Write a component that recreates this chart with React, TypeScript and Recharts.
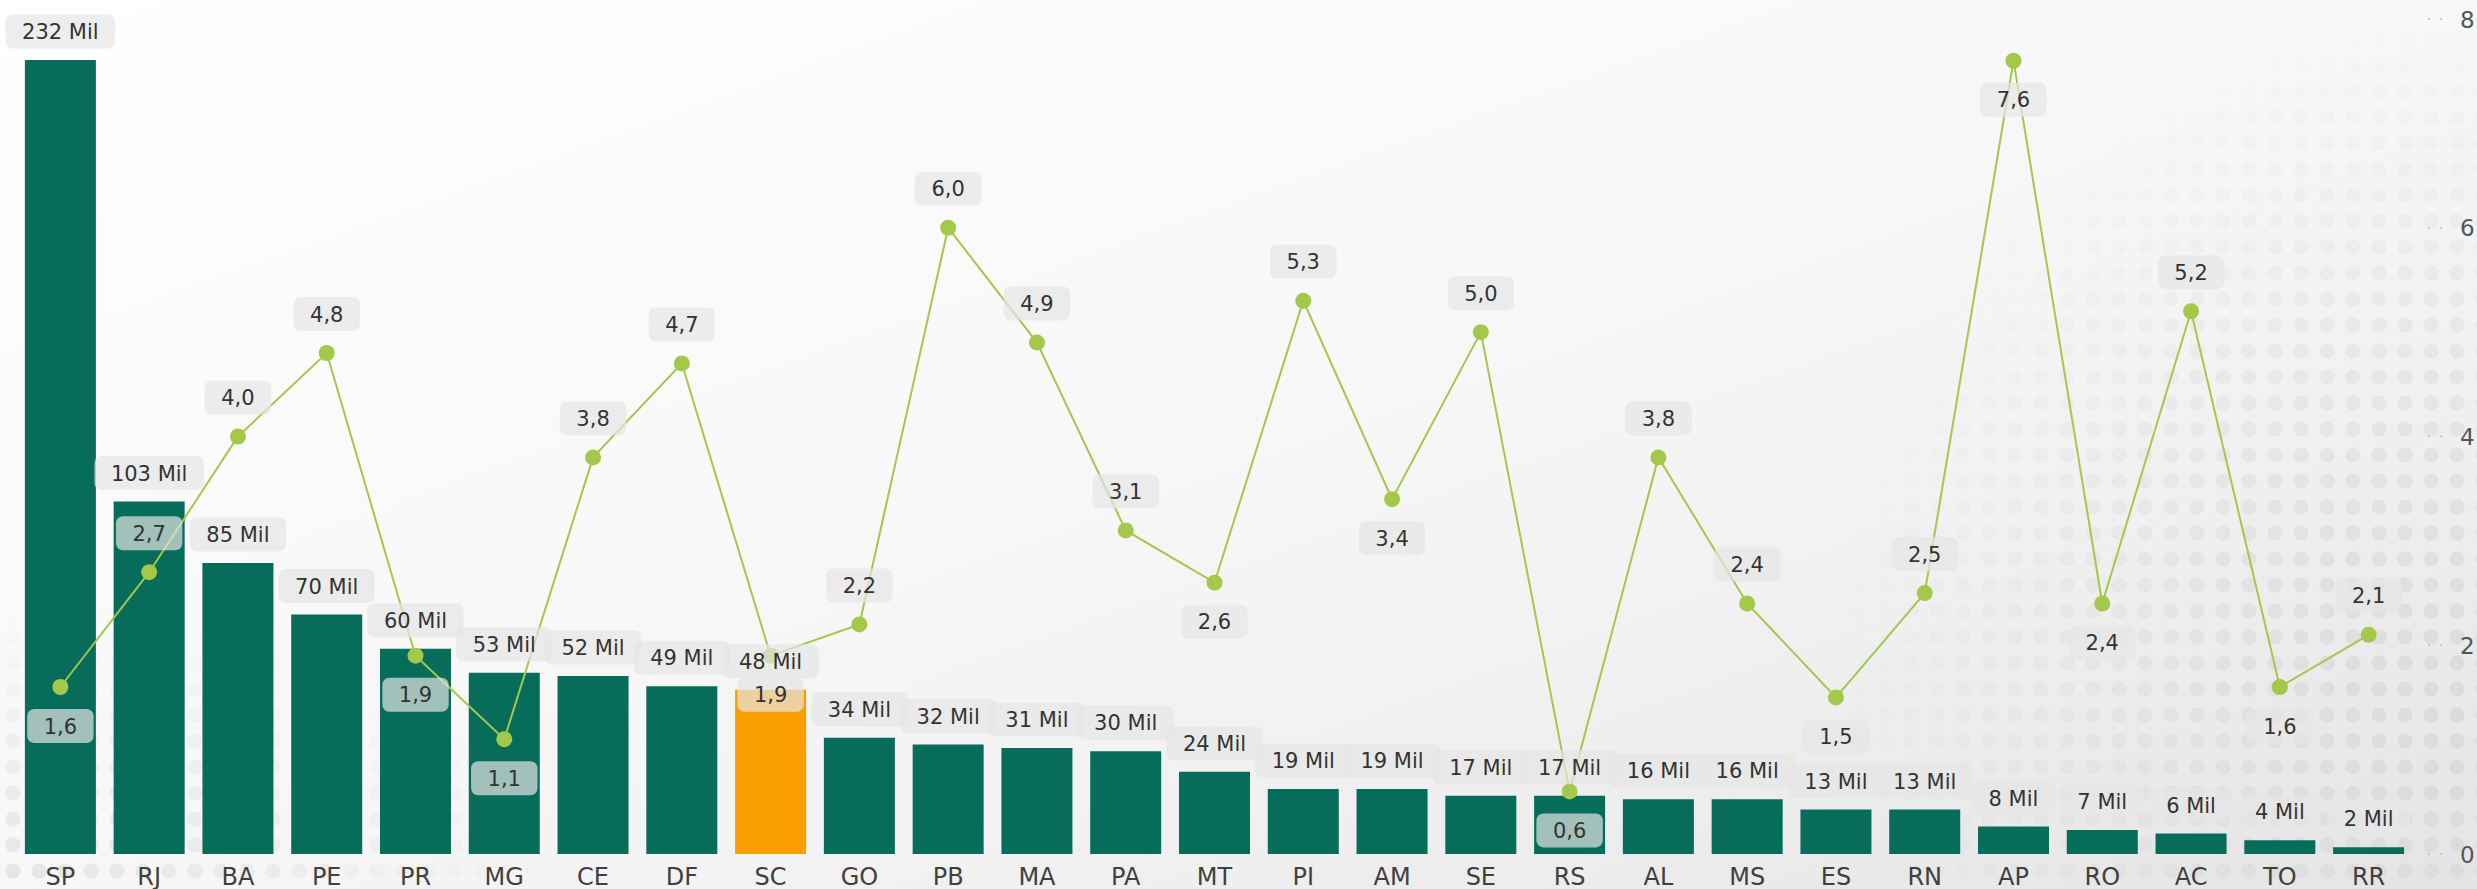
import React from 'react';
import { ComposedChart, Bar, Line, XAxis, YAxis, LabelList, Cell } from 'recharts';

const states = ['SP', 'RJ', 'BA', 'PE', 'PR', 'MG', 'CE', 'DF', 'SC', 'GO', 'PB', 'MA', 'PA', 'MT', 'PI', 'AM', 'SE', 'RS', 'AL', 'MS', 'ES', 'RN', 'AP', 'RO', 'AC', 'TO', 'RR'];
const totalMil = [232, 103, 85, 70, 60, 53, 52, 49, 48, 34, 32, 31, 30, 24, 19, 19, 17, 17, 16, 16, 13, 13, 8, 7, 6, 4, 2];
const taxa = [1.6, 2.7, 4.0, 4.8, 1.9, 1.1, 3.8, 4.7, 1.9, 2.2, 6.0, 4.9, 3.1, 2.6, 5.3, 3.4, 5.0, 0.6, 3.8, 2.4, 1.5, 2.5, 7.6, 2.4, 5.2, 1.6, 2.1];
const rightTicks = [0, 2, 4, 6, 8];
const highlightedState = 'SC';
const taxaLabelBelow = ['SP', 'PR', 'MG', 'SC', 'MT', 'AM', 'RS', 'ES', 'AP', 'RO', 'TO'];

const data = states.map((uf, i) => ({ uf, total: totalMil[i], taxa: taxa[i] }));

const FONT = '"DejaVu Sans", sans-serif';
const GREEN = '#076c59';
const ORANGE = '#fb9e02';
const LINE = '#a3c84a';
const TEXT = '#333333';

const charW: Record<string, number> = { ' ': 0.318, ',': 0.318, M: 0.863, i: 0.278, l: 0.278 };
const textWidth = (s: string, size: number) =>
  s.split('').reduce((a, c) => a + (charW[c] ?? 0.636), 0) * size;

const LABEL_SIZE = 21;

const Badge = ({ cx, cy, text }: { cx: number; cy: number; text: string }) => {
  const w = textWidth(text, LABEL_SIZE) + 33;
  return (
    <g>
      <rect x={cx - w / 2} y={cy - 17} width={w} height={34} rx={7} ry={7} fill="#e6e6e6" fillOpacity={0.7} />
      <text x={cx} y={cy + 7.6} textAnchor="middle" fill={TEXT} fontFamily={FONT} fontSize={LABEL_SIZE}>
        {text}
      </text>
    </g>
  );
};

const BarLabel = (props: any) => {
  const { x, y, width, value } = props;
  return <Badge cx={Number(x) + Number(width) / 2} cy={Number(y) - 28.5} text={`${value} Mil`} />;
};

const LineLabel = (props: any) => {
  const { x, y, value, index } = props;
  const below = taxaLabelBelow.includes(states[index]);
  const text = Number(value).toFixed(1).replace('.', ',');
  return <Badge cx={Number(x)} cy={Number(y) + (below ? 39 : -39)} text={text} />;
};

const XTick = (props: any) => {
  const { x, y, payload } = props;
  return (
    <text x={x} y={Number(y) + 31} textAnchor="middle" fill="#404040" fontFamily={FONT} fontSize={24}>
      {payload.value}
    </text>
  );
};

const RightTick = (props: any) => {
  const { x, y, payload } = props;
  return (
    <g>
      <line x1={Number(x) + 15} x2={Number(x) + 29} y1={y} y2={y} stroke="#bdbdbd" strokeWidth={1.5} strokeDasharray="2 10" />
      <text x={Number(x) + 47} y={Number(y) + 8.5} fill="#555555" fontFamily={FONT} fontSize={23}>
        {payload.value}
      </text>
    </g>
  );
};

export default function App() {
  return (
    <div
      style={{
        position: 'absolute',
        left: 0,
        top: 0,
        width: 2477,
        height: 889,
        overflow: 'hidden',
        background:
          'linear-gradient(to bottom right, #ffffff 0%, #fbfbfb 25%, #f7f7f7 50%, #f0f0f0 72%, #e4e4e4 100%)',
      }}
    >
      <div
        style={{
          position: 'absolute',
          inset: 0,
          zIndex: 0,
          backgroundImage: 'radial-gradient(circle, #d6d6d6 0 7px, transparent 8px)',
          backgroundSize: '26px 26px',
          WebkitMaskImage:
            'radial-gradient(ellipse 650px 700px at 100% 80%, rgba(0,0,0,0.75), rgba(0,0,0,0) 100%), radial-gradient(ellipse 600px 280px at 0% 100%, rgba(0,0,0,0.55), rgba(0,0,0,0) 100%)',
          maskImage:
            'radial-gradient(ellipse 650px 700px at 100% 80%, rgba(0,0,0,0.75), rgba(0,0,0,0) 100%), radial-gradient(ellipse 600px 280px at 0% 100%, rgba(0,0,0,0.55), rgba(0,0,0,0) 100%)',
        }}
      />
      <div style={{ position: 'relative', zIndex: 1 }}>
        <ComposedChart
          width={2477}
          height={889}
          data={data}
          margin={{ top: 19, right: 0, bottom: 0, left: 16 }}
          barCategoryGap="10%"
        >
          <XAxis
            dataKey="uf"
            axisLine={false}
            tickLine={false}
            tickSize={0}
            tickMargin={0}
            height={35}
            interval={0}
            tick={<XTick />}
          />
          <YAxis yAxisId="total" hide domain={[0, 244]} />
          <YAxis
            yAxisId="taxa"
            orientation="right"
            domain={[0, 8]}
            ticks={rightTicks}
            width={64}
            axisLine={false}
            tickLine={false}
            tickSize={0}
            tickMargin={0}
            tick={<RightTick />}
          />
          <Bar yAxisId="total" dataKey="total" isAnimationActive={false}>
            {data.map((d) => (
              <Cell key={d.uf} fill={d.uf === highlightedState ? ORANGE : GREEN} />
            ))}
            <LabelList dataKey="total" content={<BarLabel />} />
          </Bar>
          <Line
            yAxisId="taxa"
            dataKey="taxa"
            stroke={LINE}
            strokeWidth={2}
            dot={{ r: 8, fill: LINE, stroke: 'none' }}
            isAnimationActive={false}
          >
            <LabelList dataKey="taxa" content={<LineLabel />} />
          </Line>
        </ComposedChart>
      </div>
    </div>
  );
}
